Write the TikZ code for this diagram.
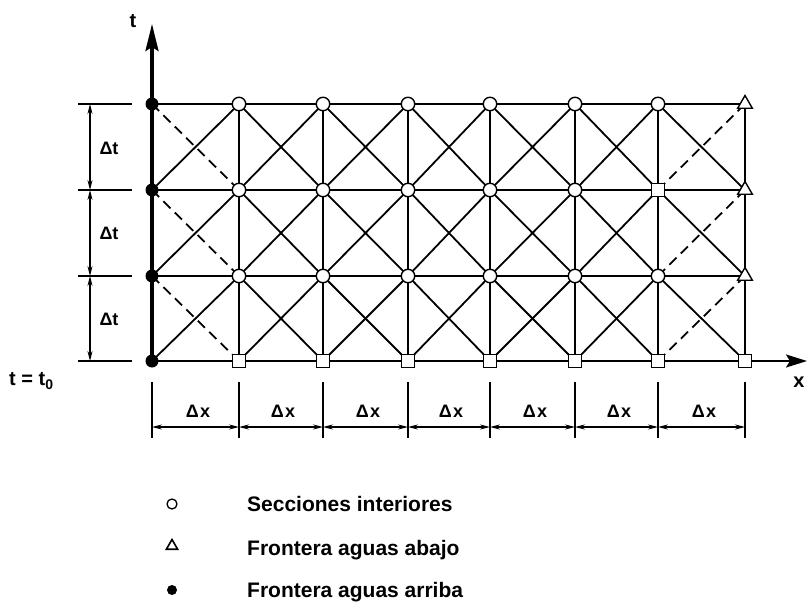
\documentclass[tikz,border=0pt]{standalone}
\usepackage{fontspec}
\setmainfont{Liberation Sans}
\usetikzlibrary{arrows.meta,shapes.geometric}
\begin{document}
\begin{tikzpicture}[x=1pt,y=-1pt,
 gridline/.style={line width=1.8pt},
 dashline/.style={line width=1.8pt,dash pattern=on 10pt off 6pt},
 axisline/.style={line width=3.4pt},
 dimline/.style={line width=1.1pt},
 dimarrow/.style={dimline,{Stealth[length=10pt,width=5pt]}-{Stealth[length=10pt,width=5pt]}},
 cirnode/.style={circle,draw,fill=white,line width=1.4pt,minimum size=13.5pt,inner sep=0pt},
 trinode/.style={regular polygon,regular polygon sides=3,draw,fill=white,line width=1.4pt,minimum size=17pt,inner sep=0pt},
 dotnode/.style={circle,fill=black,minimum size=13pt,inner sep=0pt},
 sqnode/.style={rectangle,draw,fill=white,line width=1.4pt,minimum size=12.5pt,inner sep=0pt},
 lbl/.style={font=\fontsize{18}{18}\selectfont\bfseries,inner sep=0pt},
 legendtext/.style={font=\fontsize{21}{21}\selectfont\bfseries,anchor=base west,inner sep=0pt},
]
\fill[white] (0,0) rectangle (807,605);
\useasboundingbox (0,0) rectangle (807,605);

% grid points
\foreach \x [count=\i from 0] in {152,239,323,408,490,575,658,745}
  \foreach \y [count=\j from 0] in {361,276,190,104}
    \coordinate (p-\i-\j) at (\x,\y);

% horizontal lines
\foreach \j in {1,2,3} \draw[gridline] (p-0-\j) -- (p-7-\j);
% vertical lines
\foreach \i in {1,...,7} \draw[gridline] (p-\i-0) -- (p-\i-3);
% diagonals
\foreach \i in {0,...,6}{
  \foreach \j in {0,1,2}{
    \pgfmathtruncatemacro\ii{\i+1}
    \pgfmathtruncatemacro\jj{\j+1}
    \ifnum\i=0 \draw[dashline] (p-\i-\jj) -- (p-\ii-\j);
    \else \draw[gridline] (p-\i-\jj) -- (p-\ii-\j); \fi
    \ifnum\i=6 \draw[dashline] (p-\i-\j) -- (p-\ii-\jj);
    \else \draw[gridline] (p-\i-\j) -- (p-\ii-\jj); \fi
  }
}

% axes
\coordinate (tend) at (152,24);
\coordinate (xend) at (807,361);
\draw[axisline,-{Stealth[length=27pt,width=13pt,inset=4pt]}] (p-0-0) -- (tend);
\draw[line width=2.3pt,-{Stealth[length=21pt,width=13pt,inset=4pt]}] (p-0-0) -- (xend);
\node[lbl,font=\fontsize{20}{20}\selectfont\bfseries] (tlab) at (133,21) {t};
\node[lbl,font=\fontsize{20}{20}\selectfont\bfseries] (xlab) at (799,382) {x};
\node[lbl,anchor=base west,font=\fontsize{20}{20}\selectfont\bfseries] (t0lab) at (9,385) {t = t\raisebox{-4pt}{\fontsize{14}{14}\selectfont 0}};

% nodes
\foreach \j in {0,...,3} \node[dotnode] (n-0-\j) at (p-0-\j) {};
\foreach \i in {1,...,7} \node[sqnode] (n-\i-0) at (p-\i-0) {};
\foreach \j in {1,2,3} \node[trinode] (n-7-\j) at (p-7-\j) {};
\foreach \i in {1,...,6}{
  \foreach \j in {1,2,3}{
    \ifnum\i\j=62 \node[sqnode] (n-\i-\j) at (p-\i-\j) {};
    \else \node[cirnode] (n-\i-\j) at (p-\i-\j) {}; \fi
  }
}

% left dimensions
\foreach \j in {0,...,3}{
  \path (p-0-\j) ++(-74,0) coordinate (el-\j) ++(54,0) coordinate (er-\j);
  \path (p-0-\j) ++(-62,0) coordinate (dv-\j);
  \draw[dimline] (el-\j) -- (er-\j);
}
\foreach \j in {0,1,2}{
  \pgfmathtruncatemacro\jj{\j+1}
  \draw[dimarrow] (dv-\j) -- (dv-\jj);
}
\node[lbl] (dt-2) at (109,148) {Δt};
\node[lbl] (dt-1) at (109,233) {Δt};
\node[lbl] (dt-0) at (109,319) {Δt};

% bottom dimensions
\foreach \i in {0,...,7}{
  \path (p-\i-0) ++(0,21) coordinate (bt-\i) ++(0,56) coordinate (bb-\i);
  \path (p-\i-0) ++(0,66) coordinate (bd-\i);
  \draw[dimline] (bt-\i) -- (bb-\i);
}
\foreach \i in {0,...,6}{
  \pgfmathtruncatemacro\ii{\i+1}
  \draw[dimarrow] (bd-\i) -- (bd-\ii);
}
\foreach \x [count=\k from 0] in {198,283,368,451,535,619,704}
  \node[lbl] (dx-\k) at (\x,411) {Δ\hspace{1.5pt}x};

% legend
\node[cirnode,minimum size=10pt,line width=1.3pt] (leg-1) at (172,504) {};
\node[trinode,minimum size=13pt,line width=1.6pt] (leg-2) at (172,546) {};
\node[dotnode,minimum size=10pt] (leg-3) at (172,590) {};
\node[legendtext] (legt-1) at (247,511) {Secciones interiores};
\node[legendtext] (legt-2) at (247,555) {Frontera aguas abajo};
\node[legendtext] (legt-3) at (247,597) {Frontera aguas arriba};
\end{tikzpicture}
\end{document}
